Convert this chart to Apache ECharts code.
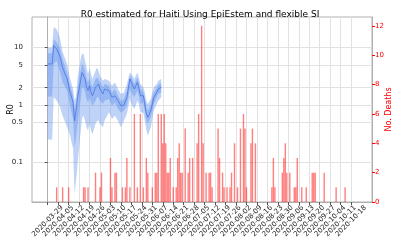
<!DOCTYPE html>
<html>
<head>
<meta charset="utf-8">
<script src="https://cdn.jsdelivr.net/npm/echarts@6/dist/echarts.min.js"></script>
<style>html,body{margin:0;padding:0;background:#fff}</style>
</head>
<body>
<div id="main" style="width:400px;height:250px"></div>
<script>
// weekly tick labels
var weekTicks = ['2020-03-29','2020-04-05','2020-04-12','2020-04-19','2020-04-26','2020-05-03',
  '2020-05-10','2020-05-17','2020-05-24','2020-05-31','2020-06-07','2020-06-14','2020-06-21',
  '2020-06-28','2020-07-05','2020-07-12','2020-07-19','2020-07-26','2020-08-02','2020-08-09',
  '2020-08-16','2020-08-23','2020-08-30','2020-09-06','2020-09-13','2020-09-20','2020-09-27',
  '2020-10-04','2020-10-11','2020-10-18'];

// R0 estimate (EpiEstim), median + inner/outer credible bands
var r0Dates = ['2020-03-29','2020-04-01','2020-04-02','2020-04-04','2020-04-06','2020-04-08',
  '2020-04-11','2020-04-13','2020-04-15','2020-04-16','2020-04-17','2020-04-18','2020-04-20',
  '2020-04-21','2020-04-22','2020-04-23','2020-04-24','2020-04-25','2020-04-26','2020-04-27',
  '2020-04-28','2020-04-30','2020-05-01','2020-05-02','2020-05-03','2020-05-05','2020-05-06',
  '2020-05-09','2020-05-11','2020-05-13','2020-05-15','2020-05-17','2020-05-19','2020-05-21',
  '2020-05-23','2020-05-24','2020-05-26','2020-05-28','2020-05-29','2020-05-30','2020-06-01',
  '2020-06-02','2020-06-03','2020-06-04','2020-06-06','2020-06-07','2020-06-08','2020-06-10',
  '2020-06-11','2020-06-13'];
var r0Median = [5.2,5.2,10.9,9.5,7.3,4.5,2.84,1.66,1.11,0.53,0.8,1.36,2.66,3.7,3.47,2.84,2.03,
  1.78,2.17,1.66,1.45,2.03,2.17,2.33,1.9,1.56,1.9,1.78,1.36,1.45,1.19,0.97,1.0,1.36,2.84,2.48,
  1.9,2.48,2.03,1.45,1.45,1.04,0.7,0.61,0.8,1.04,1.36,1.66,1.9,2.03];
var r0InnerLo = [1.4,1.4,5.2,5.9,4.0,2.5,1.78,0.97,0.57,0.18,0.27,0.47,1.19,2.03,2.03,1.66,1.27,
  1.11,1.36,1.11,0.97,1.19,1.36,1.36,1.19,1.04,1.19,1.27,0.97,1.11,0.85,0.74,0.8,0.97,1.9,1.66,
  1.36,1.78,1.45,1.04,1.11,0.77,0.53,0.47,0.61,0.8,1.04,1.36,1.56,1.66];
var r0InnerHi = [8,8,14.2,12.3,10,6.3,3.7,2.17,1.45,0.85,1.04,1.9,3.97,5.2,4.85,3.97,2.84,2.48,
  3.03,2.33,2.03,2.84,3.03,2.84,2.48,2.03,2.33,2.17,1.66,1.9,1.45,1.19,1.27,1.78,3.24,2.96,2.33,
  3.03,2.48,1.9,1.7,1.32,0.91,0.8,1.01,1.32,1.66,1.98,2.25,2.4];
var r0OuterLo = [0.25,0.25,1.36,1.2,0.97,0.65,0.41,0.29,0.17,0.028,0.048,0.095,0.33,0.6,0.65,
  0.53,0.41,0.36,0.47,0.36,0.31,0.47,0.53,0.53,0.47,0.41,0.53,0.75,0.57,0.65,0.53,0.41,0.53,0.7,
  1.27,1.04,0.85,1.19,1.04,0.74,0.74,0.53,0.36,0.29,0.41,0.57,0.8,1.04,1.19,1.36];
var r0OuterHi = [10,10,23,21,15.5,8.4,5.2,2.84,1.9,1.19,1.45,3.03,6.3,7.8,7.8,5.9,4.5,3.47,4.5,
  3.47,2.84,3.97,4.5,3.97,3.24,2.66,2.84,2.66,2.17,2.48,1.9,1.56,1.66,2.33,3.7,3.47,2.84,3.7,
  3.03,2.33,2.03,1.66,1.19,1.04,1.27,1.66,2.03,2.33,2.66,2.84];

// daily deaths (days with zero deaths left out)
var deathDates = ['2020-04-04','2020-04-08','2020-04-12','2020-04-22','2020-04-23','2020-04-25',
  '2020-04-30','2020-05-03','2020-05-04','2020-05-10','2020-05-11','2020-05-13','2020-05-14',
  '2020-05-18','2020-05-20','2020-05-21','2020-05-23','2020-05-26','2020-05-28','2020-05-30',
  '2020-06-01','2020-06-03','2020-06-04','2020-06-07','2020-06-09','2020-06-10','2020-06-11',
  '2020-06-13','2020-06-14','2020-06-15','2020-06-16','2020-06-17','2020-06-18','2020-06-19',
  '2020-06-21','2020-06-23','2020-06-24','2020-06-25','2020-06-26','2020-06-27','2020-06-29',
  '2020-07-01','2020-07-02','2020-07-04','2020-07-07','2020-07-08','2020-07-10','2020-07-11',
  '2020-07-13','2020-07-15','2020-07-16','2020-07-17','2020-07-21','2020-07-22','2020-07-24',
  '2020-07-25','2020-07-27','2020-07-29','2020-07-30','2020-08-01','2020-08-03','2020-08-05',
  '2020-08-07','2020-08-08','2020-08-09','2020-08-12','2020-08-13','2020-08-15','2020-08-26',
  '2020-08-27','2020-08-28','2020-09-02','2020-09-03','2020-09-04','2020-09-05','2020-09-07',
  '2020-09-10','2020-09-11','2020-09-12','2020-09-15','2020-09-18','2020-09-22','2020-09-23',
  '2020-09-24','2020-09-30','2020-10-08','2020-10-14'];
var deathCounts = [1,1,1,1,1,1,2,1,2,3,1,2,2,1,1,3,1,6,1,6,1,3,2,1,2,2,6,6,4,6,4,2,2,3,1,1,3,4,
  2,2,5,2,3,3,4,6,12,4,2,2,2,1,5,3,2,1,1,1,2,4,1,5,6,5,1,4,5,4,1,3,1,2,3,4,2,2,1,1,3,1,1,2,2,2,
  2,1,1];

var day0 = Date.UTC(2020, 2, 29);
function toDay(s) {
  var p = s.split('-');
  return (Date.UTC(+p[0], +p[1] - 1, +p[2]) - day0) / 86400000;
}
function toDate(d) {
  return new Date(day0 + Math.round(d) * 86400000).toISOString().slice(0, 10);
}

var r0Days = r0Dates.map(toDay);
var tickDays = weekTicks.map(toDay);
var font = 'DejaVu Sans';

// filled band between lo and hi, drawn through the axis scales
function band(lo, hi, color) {
  return {
    type: 'custom',
    xAxisIndex: 0,
    yAxisIndex: 0,
    silent: true,
    data: [[0, 1]],
    renderItem: function (params, api) {
      var pts = [];
      for (var i = 0; i < r0Days.length; i++) pts.push(api.coord([r0Days[i], hi[i]]));
      for (var j = r0Days.length - 1; j >= 0; j--) pts.push(api.coord([r0Days[j], lo[j]]));
      return { type: 'polygon', shape: { points: pts }, style: { fill: color } };
    }
  };
}

var myChart = echarts.init(document.getElementById('main'));
var option = {
  animation: false,
  title: {
    text: 'R0 estimated for Haiti Using EpiEstem and flexible SI',
    left: 'center',
    top: 5,
    textStyle: { fontFamily: font, fontSize: 9, fontWeight: 'normal', color: '#000' }
  },
  grid: {
    left: 32, right: 28, top: 17, bottom: 48,
    outerBoundsMode: 'none',
    show: true, borderColor: '#b0b0b0', borderWidth: 1
  },
  xAxis: {
    type: 'value',
    min: -10.5,
    max: 217,
    axisLine: { show: true, lineStyle: { color: '#b0b0b0' } },
    axisTick: { show: true, length: 3, customValues: tickDays, lineStyle: { color: '#555' } },
    axisLabel: {
      customValues: tickDays,
      rotate: 45,
      align: 'center',
      verticalAlign: 'middle',
      margin: 19,
      fontFamily: font,
      fontSize: 7,
      color: '#222',
      formatter: function (v) { return toDate(v); }
    },
    splitLine: { show: true, lineStyle: { color: '#e2e2e2', width: 1 } }
  },
  yAxis: [{
    type: 'log',
    logBase: 10,
    min: 0.0203,
    max: 34.3,
    position: 'left',
    name: 'R0',
    nameLocation: 'middle',
    nameGap: 17,
    nameRotate: 90,
    nameMoveOverlap: false,
    nameTextStyle: { fontFamily: font, fontSize: 8, color: '#000' },
    axisLine: { show: true, lineStyle: { color: '#b0b0b0' } },
    axisTick: { show: true, length: 3, customValues: [0.1, 0.5, 1, 2, 5, 10], lineStyle: { color: '#555' } },
    axisLabel: {
      customValues: [0.1, 0.5, 1, 2, 5, 10],
      fontFamily: font, fontSize: 7, color: '#222', margin: 9,
      formatter: function (v) { return String(+v.toPrecision(3)); }
    },
    minorTick: { show: false },
    splitLine: { show: true, lineStyle: { color: '#e2e2e2', width: 1 } }
  }, {
    type: 'value',
    min: 0,
    max: 12.6,
    position: 'right',
    name: 'No. Deaths',
    nameLocation: 'middle',
    nameGap: 13,
    nameRotate: 90,
    nameMoveOverlap: false,
    nameTextStyle: { fontFamily: font, fontSize: 8, color: 'red' },
    axisLine: { show: true, lineStyle: { color: '#b0b0b0' } },
    axisTick: { show: true, length: 3, customValues: [0, 2, 4, 6, 8, 10, 12], lineStyle: { color: 'red' } },
    axisLabel: {
      customValues: [0, 2, 4, 6, 8, 10, 12],
      fontFamily: font, fontSize: 7, color: 'red', margin: 3
    },
    splitLine: { show: false }
  }],
  series: [
    band(r0OuterLo, r0OuterHi, 'rgba(100,149,237,0.42)'),
    band(r0InnerLo, r0InnerHi, 'rgba(100,149,237,0.45)'),
    {
      type: 'line',
      yAxisIndex: 0,
      data: r0Days.map(function (d, i) { return [d, r0Median[i]]; }),
      symbol: 'none',
      silent: true,
      lineStyle: { color: 'rgba(65,105,225,0.7)', width: 1 }
    },
    {
      type: 'bar',
      yAxisIndex: 1,
      data: deathDates.map(function (s, i) { return [toDay(s), deathCounts[i]]; }),
      barWidth: 1.4,
      silent: true,
      itemStyle: { color: 'rgba(255,0,0,0.5)' }
    }
  ]
};
myChart.setOption(option);
</script>
</body>
</html>
